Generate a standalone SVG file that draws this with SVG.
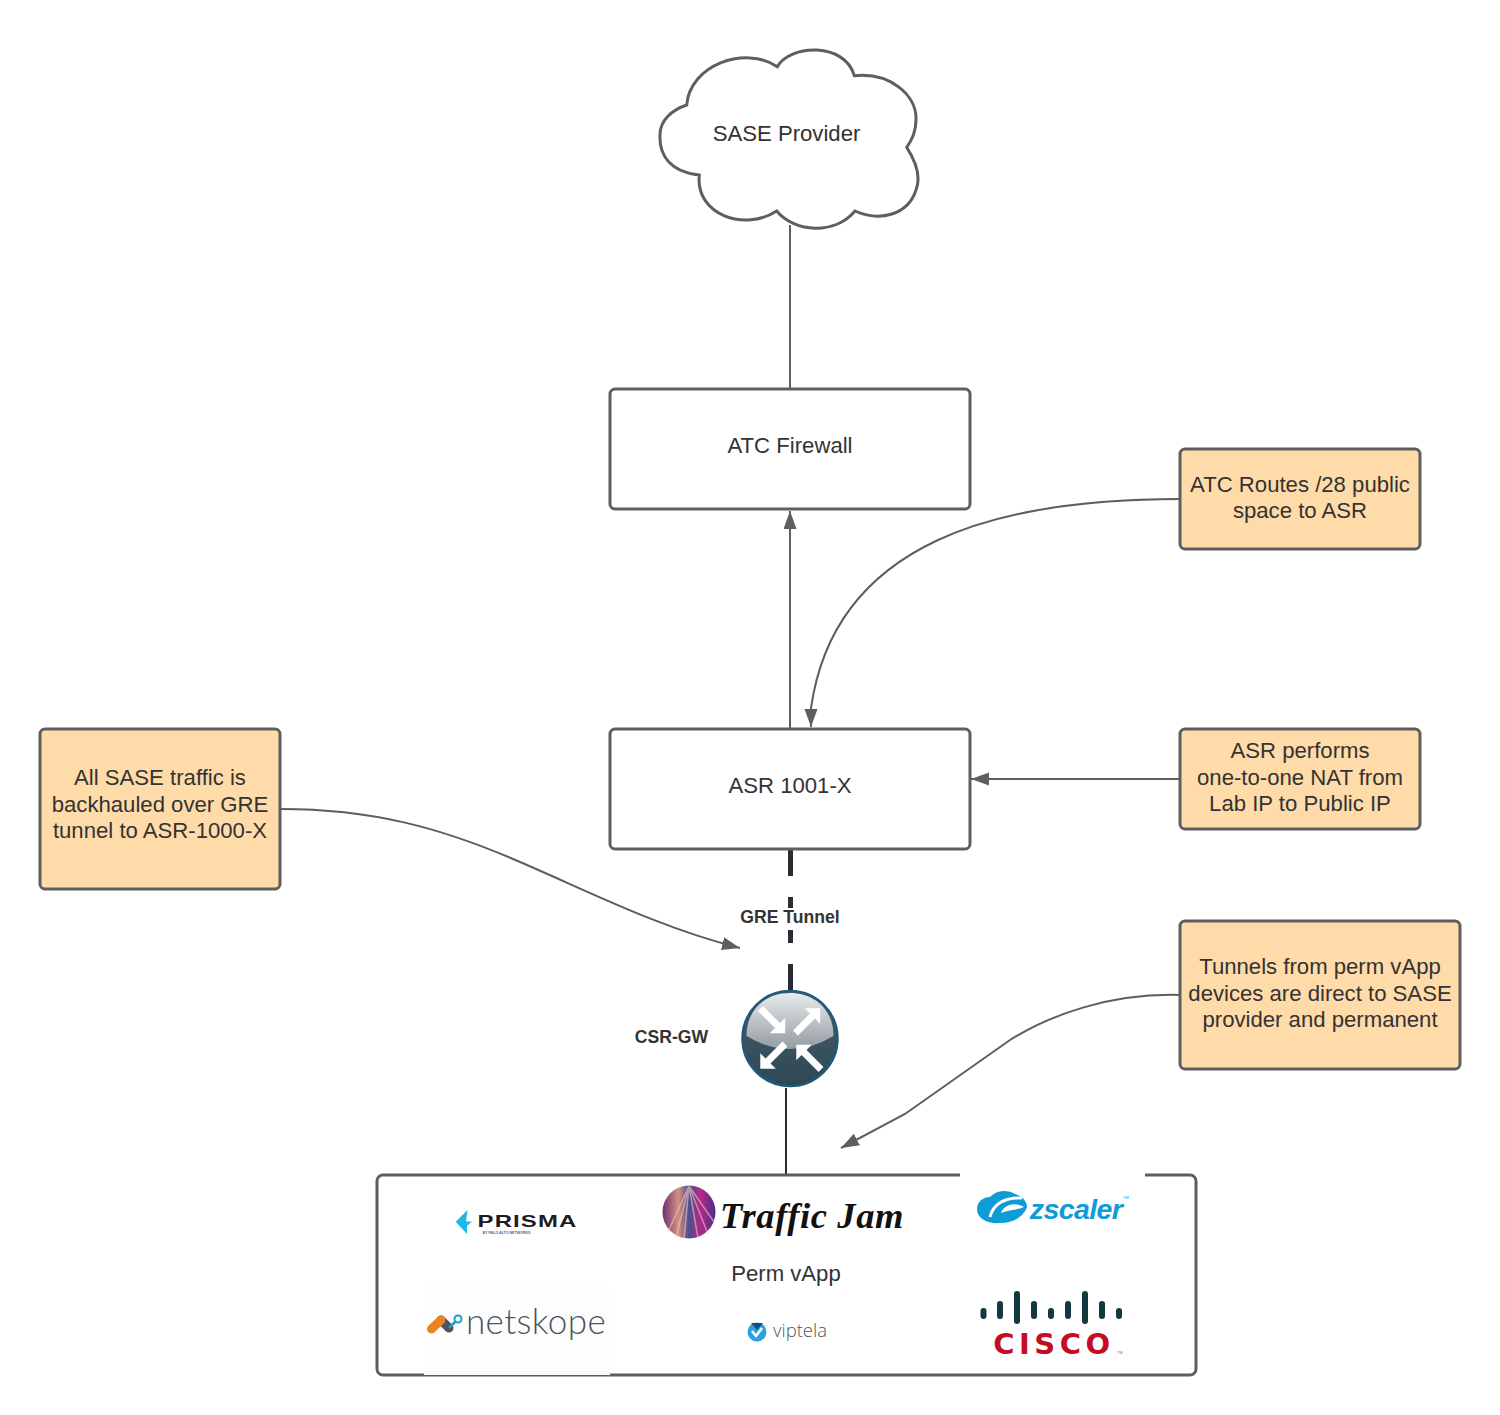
<svg xmlns="http://www.w3.org/2000/svg" width="1500" height="1415" viewBox="0 0 1500 1415">
<style>
text{font-family:"Liberation Sans",Arial,sans-serif;fill:#333;font-size:22.15px;text-anchor:middle}
.b{fill:#fff;stroke:#5e5e5e;stroke-width:3}
.o{fill:#ffdba9;stroke:#5e5e5e;stroke-width:3}
.c{fill:none;stroke:#5e5e5e;stroke-width:2}
.l{font-size:17.6px;font-weight:bold}
.k{stroke:#282c33;fill:none}
.bar{fill:#12393f}
</style>
<defs>
<marker id="arr" markerUnits="userSpaceOnUse" markerWidth="20" markerHeight="14" refX="18" refY="6.500" orient="auto"><path d="M0 0L18 6.500L0 13Z" fill="#5e5e5e"/></marker>
<linearGradient id="dome" x1="0" y1="0" x2="0" y2="1"><stop offset="0" stop-color="#e8eaec"/><stop offset="1" stop-color="#949ca2"/></linearGradient>
<linearGradient id="base" x1="0" y1="0" x2="0" y2="1"><stop offset="0" stop-color="#46606e"/><stop offset="1" stop-color="#2f4755"/></linearGradient>
<linearGradient id="road" x1="0" y1="0" x2="1" y2="0"><stop offset="0" stop-color="#6a2f78"/><stop offset=".3" stop-color="#d8907e"/><stop offset=".5" stop-color="#4a4f90"/><stop offset=".72" stop-color="#b3288a"/><stop offset="1" stop-color="#4a2f86"/></linearGradient>
<path id="ra" d="M-17 -3.500L7 -3.500L7 -11L18 0L7 11L7 3.500L-17 3.500Z" fill="#fff"/>
</defs>
<rect width="1500" height="1415" fill="#fff"/>
<g id="connectors">
<path class="c" d="M790 225V388"/>
<path class="c" d="M790 728V511" marker-end="url(#arr)"/>
<path class="c" d="M1180 499C1000 499 835 540 811 708V727" marker-end="url(#arr)"/>
<path class="c" d="M1180 779H971" marker-end="url(#arr)"/>
<path class="c" d="M281 809C370 809 440 827 520 862C590 892 660 928 740 948" marker-end="url(#arr)"/>
<path class="c" d="M1180 995C1110 993 1050 1015 1010 1040L905 1114L841 1148" marker-end="url(#arr)"/>
<path class="k" stroke-width="5" d="M790.500 850V876M790.500 897V908M790.500 930V943M790.500 964V990"/>
<path class="k" stroke-width="2" d="M786 1088V1175"/>
</g>
<g id="cloud"><path d="M777.300 66.700C790 44 845 42 854.300 75.700C890 72 917 95 916 120C916 130 912 140 906.700 147.300C918 165 920 180 916 190C908 215 880 222 855 211C835 235 795 233 776.700 211C745 232 695 215 699.300 175C670 172 659 155 660 135C660 120 672 110 686.700 105C690 65 745 45 777.300 66.700Z" class="b"/><text x="786.500" y="141">SASE Provider</text></g>
<g id="atc-firewall"><rect class="b" x="610" y="389" width="360" height="120" rx="5"/><text x="790" y="453">ATC Firewall</text></g>
<g id="asr"><rect class="b" x="610" y="729" width="360" height="120" rx="5"/><text x="790" y="793">ASR 1001-X</text></g>
<g id="note-routes"><rect class="o" x="1180" y="449" width="240" height="100" rx="5"/><text x="1300" y="492">ATC Routes /28 public</text><text x="1300" y="518">space to ASR</text></g>
<g id="note-nat"><rect class="o" x="1180" y="729" width="240" height="100" rx="5"/><text x="1300" y="758">ASR performs</text><text x="1300" y="785">one-to-one NAT from</text><text x="1300" y="811">Lab IP to Public IP</text></g>
<g id="note-backhaul"><rect class="o" x="40" y="729" width="240" height="160" rx="5"/><text x="160" y="785">All SASE traffic is</text><text x="160" y="812">backhauled over GRE</text><text x="160" y="838">tunnel to ASR-1000-X</text></g>
<g id="note-tunnels"><rect class="o" x="1180" y="921" width="280" height="148" rx="5"/><text x="1320" y="974">Tunnels from perm vApp</text><text x="1320" y="1001">devices are direct to SASE</text><text x="1320" y="1027">provider and permanent</text></g>
<g id="gre-label"><text class="l" x="790" y="923">GRE Tunnel</text></g>
<g id="csr-gw">
<circle cx="790" cy="1038.500" r="47.500" fill="url(#base)" stroke="#1f5a78" stroke-width="2.500"/>
<path d="M746.500 1036C746.500 1010 765 993 790 993C815 993 833.500 1010 833.500 1036Q812 1049 790 1049Q768 1049 746.500 1036Z" fill="url(#dome)"/>
<use href="#ra" transform="translate(772.500 1020.500) rotate(45)"/>
<use href="#ra" transform="translate(807.500 1021) rotate(-45)"/>
<use href="#ra" transform="translate(773 1056) rotate(135)"/>
<use href="#ra" transform="translate(809 1057.500) rotate(-135)"/>
<text class="l" x="671.500" y="1043">CSR-GW</text>
</g>
<g id="perm-vapp">
<rect class="b" x="377" y="1175" width="819" height="200" rx="6"/>
<rect x="424" y="1287" width="186" height="88" fill="#fdfdfd"/>
<rect x="960" y="1173" width="185" height="70" fill="#fff"/>
<text x="786" y="1281">Perm vApp</text>
<g id="logo-prisma">
<path d="M467.500 1210L455.700 1221.700L467 1234L467 1226L472 1221.500L466 1221.500Z" fill="#1bb9e6"/>
<text transform="translate(527.500 1227) scale(1.450 1)" style="font-size:16.500px;font-weight:bold;letter-spacing:.8px;fill:#1c1c24">PRISMA</text>
<text x="506.500" y="1234" style="font-size:3.600px;fill:#666;font-weight:bold">BY PALO ALTO NETWORKS</text>
</g>
<g id="logo-traffic-jam">
<circle cx="689" cy="1212" r="26.500" fill="url(#road)"/>
<path d="M689 1186L668 1232M689 1186L676 1237M689 1186L684 1238M689 1186L698 1238M689 1186L708 1234M689 1186L714 1222" stroke="#f2c8c0" stroke-width="1.500" opacity=".6"/>
<text x="812" y="1228" style="font-family:'Liberation Serif',serif;font-style:italic;font-weight:bold;font-size:36.500px;fill:#111;letter-spacing:.6px">Traffic Jam</text>
</g>
<g id="logo-zscaler">
<path d="M977 1209C977 1201 984 1197 990 1197C996 1190 1008 1189 1015 1194C1020 1195 1027 1200 1027 1207C1024 1216 1014 1223 1000 1223C988 1224 977 1219 977 1209Z" fill="#0f9bd7"/>
<path d="M1022 1198C1005 1197 993 1204 990 1217" fill="none" stroke="#fff" stroke-width="3"/>
<path d="M1001 1213C1004 1204 1016 1202 1024 1207C1018 1210 1010 1209 1001 1213Z" fill="#fff"/>
<text x="1076" y="1219" style="font-size:28.500px;font-style:italic;font-weight:bold;fill:#0f9bd7;letter-spacing:-.6px">zscaler</text>
<text x="1126" y="1199" style="font-size:4px;fill:#0f9bd7">TM</text>
</g>
<g id="logo-netskope">
<path d="M441 1320L449 1328" fill="none" stroke="#4a5560" stroke-width="9" stroke-linecap="round"/>
<path d="M431.500 1329L441 1320" stroke="#ea8423" stroke-width="9" stroke-linecap="round"/>
<path d="M449 1328L456 1321" stroke="#1aa0cc" stroke-width="2.500"/>
<circle cx="458" cy="1319" r="3.500" fill="#fff" stroke="#1aa0cc" stroke-width="2"/>
<text x="536" y="1334" style="font-family:Lato,sans-serif;font-weight:300;font-size:35px;fill:#4a5560;letter-spacing:.4px">netskope</text>
</g>
<g id="logo-viptela">
<circle cx="757" cy="1332" r="9.500" fill="#29a4dd"/>
<path d="M751 1323H763L757 1330Z" fill="#174a7c"/>
<path d="M752 1331L756 1336L762 1328" fill="none" stroke="#fff" stroke-width="2.500"/>
<text x="800" y="1337" style="font-family:'Open Sans',sans-serif;font-weight:300;font-size:18.500px;fill:#555">viptela</text>
</g>
<g id="logo-cisco">
<rect class="bar" x="980.500" y="1308" width="6" height="11" rx="3"/>
<rect class="bar" x="997" y="1301" width="6" height="18" rx="3"/>
<rect class="bar" x="1014" y="1291" width="6" height="33" rx="3"/>
<rect class="bar" x="1031" y="1301" width="6" height="18" rx="3"/>
<rect class="bar" x="1048" y="1308" width="6" height="11" rx="3"/>
<rect class="bar" x="1065" y="1301" width="6" height="18" rx="3"/>
<rect class="bar" x="1082" y="1291" width="6" height="33" rx="3"/>
<rect class="bar" x="1099" y="1301" width="6" height="18" rx="3"/>
<rect class="bar" x="1116" y="1308" width="6" height="11" rx="3"/>
<text x="1054" y="1354" style="font-family:'DejaVu Sans',sans-serif;font-size:29px;font-weight:bold;fill:#c60c20;letter-spacing:4.500px">CISCO</text>
<text x="1120" y="1354" style="font-size:4px;fill:#a66">TM</text>
</g>
</g>
</svg>
